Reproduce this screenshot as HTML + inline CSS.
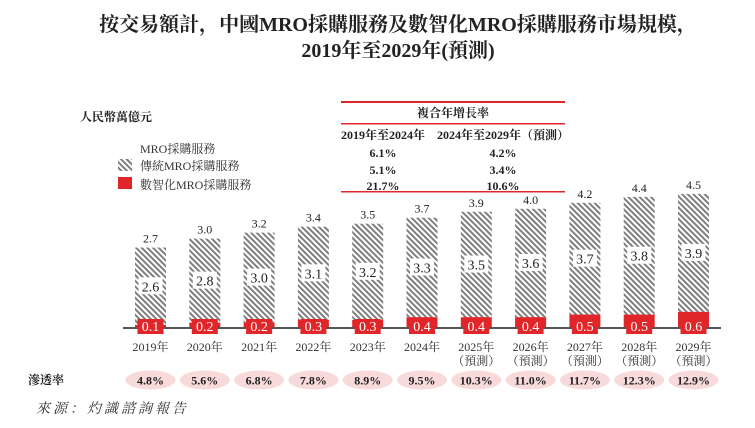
<!DOCTYPE html>
<html><head><meta charset="utf-8"><style>
body{margin:0;background:#fff;}
svg text{font-family:"Liberation Serif","Noto Serif CJK SC",serif;}
</style></head><body>
<svg width="755" height="423" xmlns="http://www.w3.org/2000/svg">
<defs>
<pattern id="h" width="4" height="4" patternUnits="userSpaceOnUse" patternTransform="rotate(-45)">
<rect width="4" height="4" fill="#fff"/><rect width="2" height="4" fill="#7f7f7f"/>
</pattern>
</defs>
<text x="398" y="31" font-size="20" font-weight="bold" text-anchor="middle" fill="#222">按交易額計，中國MRO採購服務及數智化MRO採購服務市場規模，</text>
<text x="398" y="57" font-size="20" font-weight="bold" text-anchor="middle" fill="#222">2019年至2029年(預測)</text>
<text x="80" y="121" font-size="12" font-weight="bold" fill="#222">人民幣萬億元</text>
<text x="140" y="153" font-size="12" fill="#333">MRO採購服務</text>
<rect x="118" y="159" width="14" height="12" fill="url(#h)"/>
<text x="140" y="170" font-size="12" fill="#333">傳統MRO採購服務</text>
<rect x="118" y="177" width="14" height="12" fill="#e1262a"/>
<text x="140" y="189" font-size="12" fill="#333">數智化MRO採購服務</text>
<rect x="341" y="101" width="224" height="2" fill="#e1262a"/>
<rect x="341" y="123" width="224" height="1.5" fill="#e1262a"/>
<rect x="341" y="191" width="224" height="1.5" fill="#e1262a"/>
<g font-size="12" font-weight="bold" fill="#222" text-anchor="middle">
<text x="453" y="117">複合年增長率</text>
<text x="383" y="139">2019年至2024年</text>
<text x="503" y="139">2024年至2029年（預測）</text>
<text x="383" y="157">6.1%</text><text x="503" y="157">4.2%</text>
<text x="383" y="174">5.1%</text><text x="503" y="174">3.4%</text>
<text x="383" y="190">21.7%</text><text x="503" y="190">10.6%</text>
</g>
<g id="bars"></g>
<rect x="123" y="327" width="598" height="2" fill="#555"/>
<text x="28" y="384" font-size="12" font-weight="bold" fill="#222">滲透率</text>
<text x="36" y="413" font-size="14" font-style="italic" fill="#333" letter-spacing="3">來源：灼識諮詢報告</text>
<g id="fg"></g>
</svg>
<script>
(function(){
var tot=[2.7,3.0,3.2,3.4,3.5,3.7,3.9,4.0,4.2,4.4,4.5],
tr=[2.6,2.8,3.0,3.1,3.2,3.3,3.5,3.6,3.7,3.8,3.9],
dg=[0.1,0.2,0.2,0.3,0.3,0.4,0.4,0.4,0.5,0.5,0.6],
pen=["4.8%","5.6%","6.8%","7.8%","8.9%","9.5%","10.3%","11.0%","11.7%","12.3%","12.9%"];
var s="",f="",base=328,k=29.8;
for(var i=0;i<11;i++){
 var cx=150.5+i*54.3,x=cx-15.5,bt0=base-tot[i]*k,rt=base-Math.max(dg[i]*k*0.9,3);
 s+='<rect x="'+x+'" y="'+bt0+'" width="31" height="'+(rt-bt0)+'" fill="url(#h)"/>';
 s+='<rect x="'+x+'" y="'+rt+'" width="31" height="'+(base-rt)+'" fill="#e1262a"/>';
 s+='<text x="'+cx+'" y="'+(bt0-5)+'" font-size="12" text-anchor="middle" fill="#222">'+tot[i].toFixed(1)+'</text>';
 var my=(bt0+rt)/2;
 s+='<rect x="'+(cx-12)+'" y="'+(my-9)+'" width="24" height="17" fill="#fff"/>';
 s+='<text x="'+cx+'" y="'+(my+5)+'" font-size="14" text-anchor="middle" fill="#222">'+tr[i].toFixed(1)+'</text>';
 var bt=Math.min(rt,319);
 f+='<rect x="'+(cx-13)+'" y="'+bt+'" width="26" height="'+(334-bt)+'" fill="#e1262a"/>';
 f+='<text x="'+cx+'" y="331" font-size="14" text-anchor="middle" fill="#fff">'+dg[i].toFixed(1)+'</text>';
 f+='<text x="'+cx+'" y="351" font-size="12" text-anchor="middle" fill="#333">'+(2019+i)+'年</text>';
 if(i>=6) f+='<text x="'+cx+'" y="365" font-size="12" text-anchor="middle" fill="#333">（預測）</text>';
 f+='<ellipse cx="'+cx+'" cy="380" rx="25" ry="9.5" fill="#f8dada"/>';
 f+='<text x="'+cx+'" y="384.5" font-size="12" font-weight="bold" text-anchor="middle" fill="#222">'+pen[i]+'</text>';
}
document.getElementById("bars").innerHTML=s;
document.getElementById("fg").innerHTML=f;
})();
</script>
</body></html>
